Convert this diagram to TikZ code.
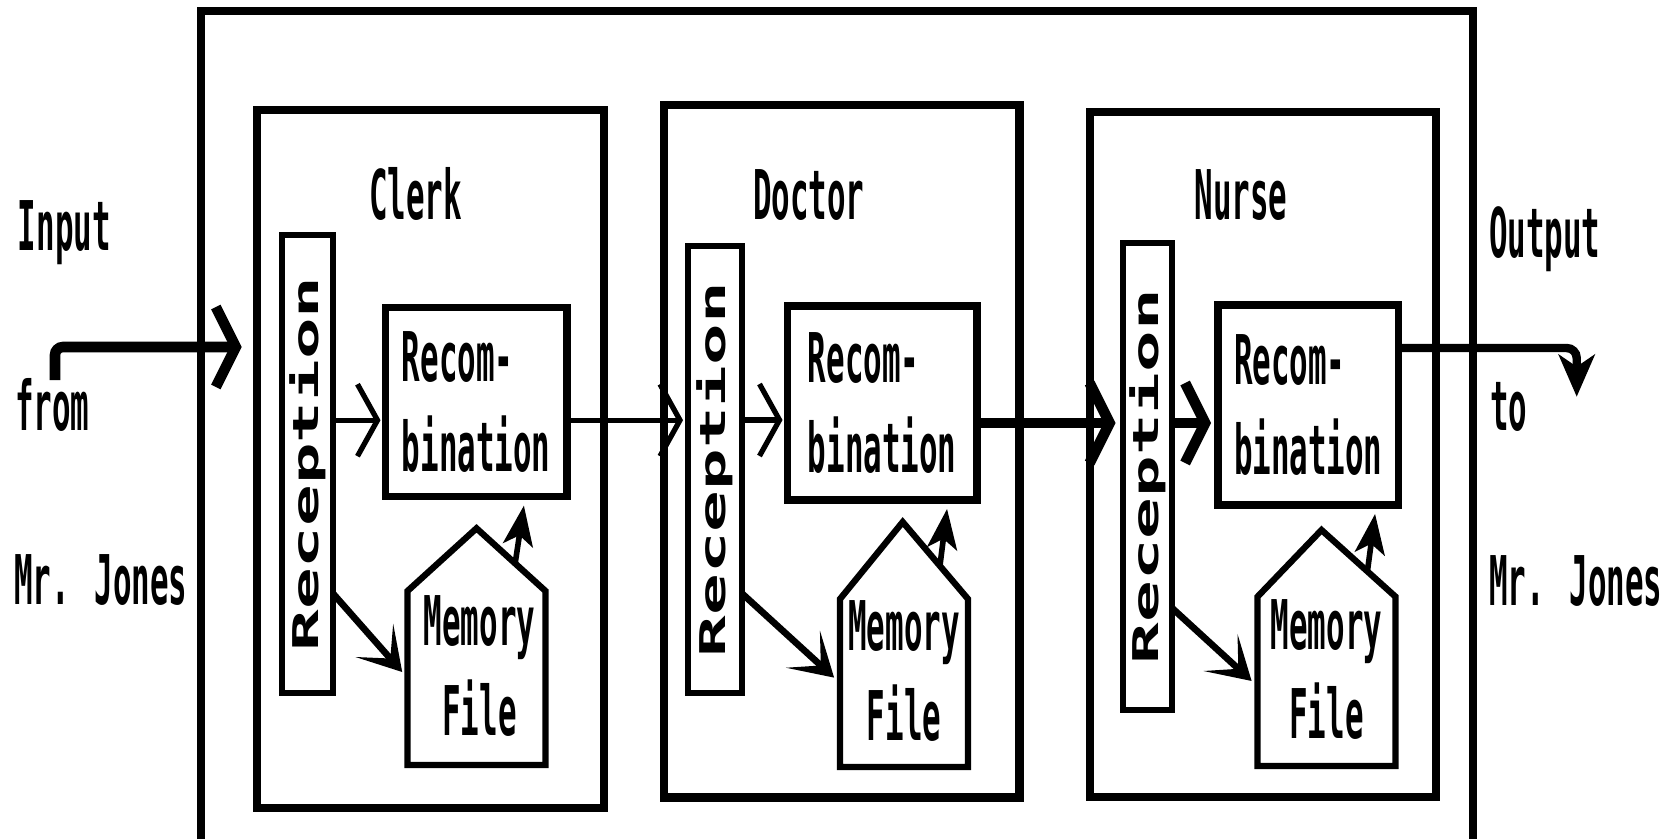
\documentclass[tikz,border=0pt]{standalone}
\usepackage{fontspec}
\usepackage{tikz}
\usetikzlibrary{arrows.meta,calc,positioning}
\newfontfamily\tallfont{DejaVu Sans Mono Bold}[FakeStretch=0.45]
\newfontfamily\widefont{DejaVu Sans Mono Bold}[FakeStretch=1.95]

\begin{document}
\begin{tikzpicture}
[line join=miter,
every node/.style={inner sep=0pt, outer sep=0pt},
txt/.style={font=\tallfont\fontsize{19.5}{25.5}\selectfont},
rtxt/.style={font=\widefont\fontsize{10.1}{12}\selectfont, rotate=90},
unit/.style={draw, line width=2.3pt},
recep/.style={draw, line width=1.7pt, minimum width=0.51cm},
recom/.style={draw, line width=2.1pt, txt, align=left},
memfile/.style={txt, align=center},
roof/.style={line width=1.8pt},
flow/.style={-{Straight Barb[length=0.2cm,width=0.72cm]}, line width=1.5pt, shorten >=0.05cm},
heavy/.style={-{Straight Barb[length=0.2cm,width=0.8cm]}, line width=3pt, shorten >=0.07cm},
tofile/.style={-{Stealth[length=0.42cm,width=0.5cm,inset=0.24cm]}, line width=1.9pt, shorten >=0.08cm},
fromfile/.style={-{Stealth[length=0.4cm,width=0.3cm,inset=0.1cm]}, line width=1.6pt, shorten >=0.09cm},
outflow/.style={-{Stealth[length=0.42cm,width=0.36cm,inset=0.12cm]}, line width=2.4pt, rounded corners=0.1cm}
]
\useasboundingbox (0,0) rectangle (16.72,-8.39);

% outer frame, open at the bottom
\draw[line width=2.3pt] (2.01,-8.39) -- (2.01,-0.11) -- (14.73,-0.11) -- (14.73,-8.39);

% side texts
\node[txt, anchor=base west] (inTxt)   at (0.18,-2.50) {Input};
\node[txt, anchor=base west] (fromTxt) at (0.15,-4.30) {from};
\node[txt, anchor=base west] (jonesL)  at (0.14,-6.04) {Mr. Jones};
\node[txt, anchor=base west] (outTxt)  at (14.89,-2.57) {Output};
\node[txt, anchor=base west] (toTxt)   at (14.90,-4.30) {to};
\node[txt, anchor=base west] (jonesR)  at (14.89,-6.05) {Mr. Jones};

% clerk
\node[unit, minimum width=3.47cm, minimum height=6.98cm] (clerk) at (4.305,-4.59) {};
\node[txt, anchor=base] (tClerk) at (4.155,-2.19) {Clerk};
\node[recep, minimum height=4.58cm] (recepC) at (3.075,-4.64) {};
\node[rtxt] (tRecepC) at (recepC) {Reception};
\node[recom, minimum width=1.815cm, minimum height=1.89cm] (recomC) at (4.7625,-4.022) {Recom-\\bination};
\node[minimum width=1.38cm, minimum height=1.74cm] (memC) at (4.765,-6.78) {};
\node[memfile] (tMemC) at ([xshift=0.03cm,yshift=0.12cm]memC) {Memory\\File};
\draw[roof] (memC.south west) -- (memC.north west) -- ($(memC.north)+(0,0.627)$) coordinate (peakC)
  -- (memC.north east) -- (memC.south east) -- cycle;

% doctor
\node[unit, minimum width=3.555cm, minimum height=6.925cm] (doctor) at (8.4175,-4.5125) {};
\node[txt, anchor=base] (tDoctor) at (8.088,-2.19) {Doctor};
\node[recep, minimum width=0.535cm, minimum height=4.47cm] (recepD) at (7.1475,-4.695) {};
\node[rtxt] (tRecepD) at (recepD) {Reception};
\node[recom, minimum width=1.893cm, minimum height=1.94cm] (recomD) at (8.8215,-4.03) {Recom-\\bination};
\node[minimum width=1.28cm, minimum height=1.68cm] (memD) at (9.04,-6.83) {};
\node[memfile] (tMemD) at ([yshift=0.12cm]memD) {Memory\\File};
\draw[roof] (memD.south west) -- (memD.north west) -- ($(memD.north)+(-0.013,0.77)$) coordinate (peakD)
  -- (memD.north east) -- (memD.south east) -- cycle;

% nurse
\node[unit, minimum width=3.46cm, minimum height=6.85cm] (nurse) at (12.63,-4.545) {};
\node[txt, anchor=base] (tNurse) at (12.41,-2.19) {Nurse};
\node[recep, minimum width=0.495cm, minimum height=4.67cm] (recepN) at (11.4725,-4.765) {};
\node[rtxt] (tRecepN) at (recepN) {Reception};
\node[recom, minimum width=1.805cm, minimum height=2.0cm] (recomN) at (13.0825,-4.05) {Recom-\\bination};
\node[minimum width=1.38cm, minimum height=1.693cm] (memN) at (13.265,-6.8135) {};
\node[memfile] (tMemN) at ([yshift=0.12cm]memN) {Memory\\File};
\draw[roof] (memN.south west) -- (memN.north west) -- ($(memN.north)+(-0.05,0.667)$) coordinate (peakN)
  -- (memN.north east) -- (memN.south east) -- cycle;

% input and output
\coordinate (inS) at (0.55,-3.80);
\coordinate (inE) at (2.417,-3.47);
\draw[heavy, shorten >=0pt, rounded corners=0.08cm] (inS) |- (inE);
\coordinate (outE) at (15.767,-3.967);
\draw[outflow] ([yshift=0.57cm]recomN.east) -| (outE);

% between the units
\draw[flow] ([yshift=-0.18cm]recomC.east) -- ([yshift=-0.18cm]recomC.east -| recepD.west);
\draw[heavy] ([yshift=-0.2cm]recomD.east) -- ([yshift=-0.2cm]recomD.east -| recepN.west);

% inside the units
\draw[flow] ([yshift=-0.18cm]recomC.west -| recepC.east) -- ([yshift=-0.18cm]recomC.west);
\draw[flow] ([yshift=-0.17cm]recomD.west -| recepD.east) -- ([yshift=-0.17cm]recomD.west);
\draw[heavy] ([yshift=-0.18cm]recomN.west -| recepN.east) -- ([yshift=-0.18cm]recomN.west);

\draw[tofile] ([yshift=-1.295cm]recepC.east) -- (memC.west);
\draw[tofile] ([yshift=-1.235cm]recepD.east) -- (memD.west);
\draw[tofile] ([yshift=-1.315cm]recepN.east) -- ([yshift=-0.05cm]memN.west);

\draw[fromfile] ($(peakC)!0.56!(memC.north east)$) -- ([xshift=0.49cm]recomC.south);
\draw[fromfile] ($(peakD)!0.57!(memD.north east)$) -- ([xshift=0.66cm]recomD.south);
\draw[fromfile] ($(peakN)!0.62!(memN.north east)$) -- ([xshift=0.68cm]recomN.south);
\end{tikzpicture}
\end{document}
